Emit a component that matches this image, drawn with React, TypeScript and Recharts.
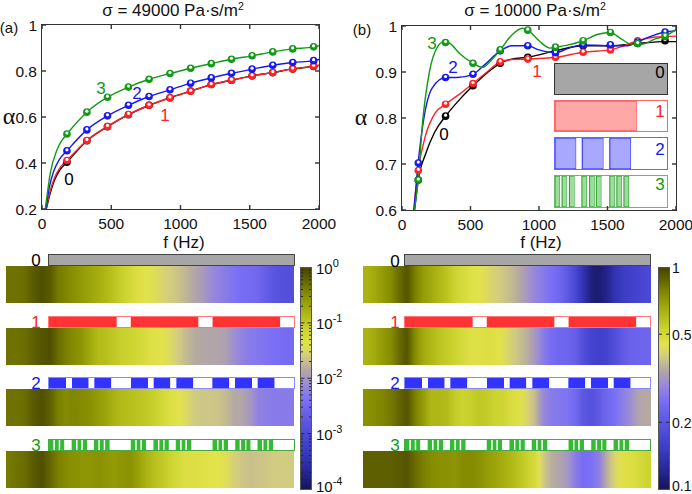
import { BarChart, Bar, Cell, ComposedChart, Line, XAxis, YAxis, ReferenceArea } from 'recharts'

const freqTicks = [0, 500, 1000, 1500, 2000]
const alphaTicksA = [0.2, 0.4, 0.6, 0.8, 1]
const alphaTicksB = [0.6, 0.7, 0.8, 0.9, 1]

// measured dots, panel a
const dotFreqA = [180, 324, 473, 624, 773, 924, 1073, 1222, 1368, 1517, 1666, 1810, 1961]
const dotsA0 = [0.403, 0.497, 0.558, 0.61, 0.651, 0.684, 0.713, 0.741, 0.76, 0.779, 0.793, 0.809, 0.82]
const dotsA1 = [0.411, 0.498, 0.559, 0.611, 0.651, 0.683, 0.712, 0.741, 0.76, 0.779, 0.793, 0.809, 0.821]
const dotsA2 = [0.453, 0.544, 0.605, 0.651, 0.689, 0.718, 0.747, 0.77, 0.79, 0.808, 0.825, 0.837, 0.845]
const dotsA3 = [0.526, 0.621, 0.686, 0.73, 0.764, 0.789, 0.812, 0.832, 0.851, 0.866, 0.883, 0.896, 0.905]

// curves, panel a: low frequency part read separately, then through the dots
const lowA0 = [[31, 0.2], [60, 0.27], [90, 0.325], [130, 0.37]]
const lowA1 = [[30, 0.2], [60, 0.28], [90, 0.335], [130, 0.38]]
const lowA2 = [[28, 0.2], [55, 0.3], [85, 0.365], [125, 0.415]]
const lowA3 = [[24, 0.2], [60, 0.356], [108, 0.457], [140, 0.495]]
const endA = [0.824, 0.825, 0.85, 0.91]

// panel b
const dotFreqB = [119, 318, 518, 717, 918, 1120, 1322, 1521, 1720, 1920]
const dotsB0 = [0.665, 0.804, 0.87, 0.919, 0.932, 0.946, 0.957, 0.957, 0.962, 0.968]
const dotsB1 = [0.686, 0.83, 0.875, 0.922, 0.928, 0.932, 0.943, 0.948, 0.968, 0.977]
const dotsB2 = [0.702, 0.888, 0.895, 0.946, 0.957, 0.942, 0.959, 0.959, 0.965, 0.987]
const dotsB3 = [0.665, 0.964, 0.919, 0.948, 0.991, 0.954, 0.968, 0.986, 0.962, 0.978]

const curveB0 = [[92, 0.6], [118, 0.665], [170, 0.72], [240, 0.77], [318, 0.804], [420, 0.84], [518, 0.87], [620, 0.898], [717, 0.919], [800, 0.928], [918, 0.932], [1120, 0.946], [1322, 0.957], [1521, 0.957], [1720, 0.962], [1920, 0.966], [2000, 0.966]]
const curveB1 = [[85, 0.6], [118, 0.686], [170, 0.76], [240, 0.81], [318, 0.83], [420, 0.852], [518, 0.875], [620, 0.9], [717, 0.922], [800, 0.927], [918, 0.928], [1120, 0.932], [1322, 0.943], [1521, 0.948], [1620, 0.957], [1720, 0.968], [1850, 0.976], [2000, 0.978]]
const curveB2 = [[88, 0.6], [118, 0.702], [160, 0.8], [220, 0.865], [318, 0.888], [400, 0.888], [518, 0.895], [600, 0.915], [717, 0.946], [800, 0.957], [918, 0.957], [1000, 0.948], [1120, 0.942], [1220, 0.952], [1322, 0.959], [1521, 0.957], [1650, 0.957], [1720, 0.965], [1800, 0.976], [1920, 0.987], [2000, 0.99]]
const curveB3 = [[90, 0.6], [118, 0.665], [150, 0.79], [200, 0.9], [260, 0.955], [300, 0.965], [350, 0.962], [420, 0.94], [518, 0.919], [590, 0.91], [650, 0.925], [717, 0.948], [800, 0.98], [880, 0.995], [918, 0.991], [1000, 0.968], [1080, 0.952], [1120, 0.954], [1200, 0.958], [1322, 0.968], [1430, 0.982], [1521, 0.986], [1600, 0.972], [1680, 0.96], [1760, 0.961], [1850, 0.972], [1920, 0.978], [2000, 0.992]]

// heat strips: position on the colorbar, 0 bottom, 1 top, one value per column
const stripA0 = [.92, .92, .93, .96, .98, .96, .91, .89, .87, .85, .83, .81, .79, .76, .73, .70, .67, .65, .64, .62, .60, .585, .56, .535, .51, .475, .45, .43, .41, .39, .385, .37, .33, .30, .28, .27]
const stripA1 = [.92, .92, .93, .95, .97, .98, .93, .90, .88, .86, .82, .78, .77, .75, .73, .72, .70, .68, .66, .65, .63, .60, .57, .545, .535, .53, .53, .52, .48, .45, .43, .42, .41, .40, .39, .385]
const stripA2 = [.92, .92, .93, .96, .98, .95, .90, .88, .89, .88, .87, .85, .83, .80, .78, .77, .76, .75, .73, .70, .67, .65, .63, .60, .59, .59, .585, .57, .54, .53, .50, .45, .44, .43, .43, .43]
const stripA3 = [.91, .92, .93, .96, .98, .94, .90, .88, .87, .86, .86, .87, .86, .85, .86, .87, .84, .80, .77, .75, .72, .69, .67, .67, .66, .65, .65, .64, .61, .59, .58, .585, .59, .60, .60, .60]
const stripB0 = [.80, .82, .85, .88, .93, .97, .90, .85, .82, .79, .76, .72, .69, .66, .65, .63, .61, .59, .57, .54, .50, .46, .43, .40, .37, .32, .24, .14, .05, .03, .07, .14, .18, .20, .22, .24]
const stripB1 = [.80, .82, .85, .88, .93, .97, .88, .82, .79, .76, .74, .72, .69, .66, .66, .67, .66, .64, .61, .58, .55, .50, .44, .39, .37, .36, .34, .27, .22, .20, .22, .27, .32, .35, .36, .36]
const stripB2 = [.87, .88, .89, .91, .94, .97, .90, .85, .79, .79, .78, .74, .72, .73, .75, .74, .72, .71, .68, .66, .62, .57, .47, .43, .42, .41, .38, .31, .28, .32, .37, .40, .44, .48, .53, .54]
const stripB3 = [.95, .95, .95, .95, .96, .97, .93, .90, .88, .87, .87, .86, .88, .88, .87, .85, .83, .81, .79, .76, .73, .69, .60, .55, .53, .50, .44, .39, .40, .44, .55, .62, .66, .67, .69, .72]

const mapPos = [0, .1, .2, .3, .4, .47, .54, .6, .65, .72, .8, .88, .95, 1]
const mapColor = ['#15155c', '#2a2aa0', '#4040cc', '#5a55e0', '#7a6ff5', '#9a8ad8', '#b5a9a2', '#d2cc80', '#e2e24a', '#ccd430', '#aab312', '#858c00', '#5e5f00', '#454500']

// patterns
const patGray = [1]
const patRed = [204, 42, 204, 42, 204, 41]
const patBlue = [51, 18, 50, 17, 51, 59, 51, 17, 50, 18, 51, 57, 51, 17, 51, 17, 51, 58]
const patGreen = [14, 4, 12, 4, 13, 22, 14, 4, 12, 4, 13, 21, 14, 4, 12, 4, 14, 64, 14, 4, 12, 4, 13, 22, 14, 4, 12, 4, 13, 21, 14, 4, 12, 4, 14, 64, 14, 4, 12, 4, 13, 22, 14, 4, 12, 4, 13, 21, 14, 4, 12, 4, 14, 63]
const insetRed = [243, 90]
const insetBlue = [63, 18, 63, 19, 63, 107]
const insetGreen = [15, 6, 14, 8, 15, 22, 15, 8, 15, 5, 15, 25, 15, 6, 15, 6, 15, 113]

const cbarTicksA = [1e-4, 2e-4, 3e-4, 4e-4, 5e-4, 6e-4, 7e-4, 8e-4, 9e-4, 1e-3, 2e-3, 3e-3, 4e-3, 5e-3, 6e-3, 7e-3, 8e-3, 9e-3, 1e-2, 2e-2, 3e-2, 4e-2, 5e-2, 6e-2, 7e-2, 8e-2, 9e-2, 1e-1, 0.2, 0.3, 0.4, 0.5, 0.6, 0.7, 0.8, 0.9, 1]
const cbarLabelsA: Record<string, string> = { '0.0001': '-4', '0.001': '-3', '0.01': '-2', '0.1': '-1', '1': '0' }
const cbarTicksB = [0.1, 0.2, 0.5, 1]

const BLACK = '#000000'
const RED = '#ff2226'
const BLUE = '#1818f0'
const GREEN = '#129a16'
const FRAME = '#333333'
const FONT = '"Liberation Sans", Arial, sans-serif'
const colors = [BLACK, RED, BLUE, GREEN]

function hex(c: string) {
  return [1, 3, 5].map(i => parseInt(c.slice(i, i + 2), 16))
}

function cmap(t: number) {
  let i = 0
  while (i < mapPos.length - 2 && t > mapPos[i + 1]) i++
  const f = Math.min(1, Math.max(0, (t - mapPos[i]) / (mapPos[i + 1] - mapPos[i])))
  const a = hex(mapColor[i])
  const b = hex(mapColor[i + 1])
  return `rgb(${a.map((v, k) => Math.round(v + (b[k] - v) * f)).join(',')})`
}

const pts = (xs: number[], ys: number[]) => xs.map((x, i) => ({ x, y: ys[i] }))
const pairs = (list: number[][]) => list.map(([x, y]) => ({ x, y }))

const Marker = (color: string) => (props: any) => {
  const { cx, cy, index } = props
  if (cx == null || cy == null) return <g key={index} />
  return (
    <g key={index}>
      <circle cx={cx} cy={cy} r={3.8} fill={color} />
      <circle cx={cx} cy={cy - 1} r={1.6} fill="#fff" />
    </g>
  )
}

// small inward tick, a thin filled rect
const Mark = ({ x, y, dx = 0, dy = 0, color = FRAME, w = 1.4 }: any) => (
  <rect
    x={dx ? Math.min(x, x + dx) : x - w / 2}
    y={dy ? Math.min(y, y + dy) : y - w / 2}
    width={dx ? Math.abs(dx) : w}
    height={dy ? Math.abs(dy) : w}
    fill={color}
  />
)

const BottomTick = ({ x, y, payload }: any) => (
  <g>
    <Mark x={x} y={y} dy={-4} />
    <text x={x} y={y + 20} textAnchor="middle" fill="#111" fontSize={15.5} fontFamily={FONT}>{payload.value}</text>
  </g>
)
const TopTick = ({ x, y }: any) => <Mark x={x} y={y} dy={4} />
const LeftTick = ({ x, y, payload }: any) => (
  <g>
    <Mark x={x} y={y} dx={4} />
    <text x={x - 5} y={y + 5.5} textAnchor="end" fill="#111" fontSize={15.5} fontFamily={FONT}>{payload.value}</text>
  </g>
)
const RightTick = ({ x, y }: any) => <Mark x={x} y={y} dx={-4} />

const flat = { axisLine: false, tickLine: false, tickSize: 0, tickMargin: 0, interval: 0 as const }

function Panel({ left, width, plotLeft, plotRight, top, bottom, domain, ticks, curves, dots }: any) {
  return (
    <div style={{ position: 'absolute', left, top: 0, width, height: 250 }}>
      <ComposedChart width={width} height={250} margin={{ top, right: plotRight, bottom, left: plotLeft }}>
        <XAxis xAxisId="b" dataKey="x" type="number" domain={[0, 2000]} allowDataOverflow hide />
        <YAxis yAxisId="l" dataKey="y" type="number" domain={domain} allowDataOverflow hide />
        {curves.map((c: any, i: number) => (
          <Line key={`c${i}`} xAxisId="b" yAxisId="l" data={c} dataKey="y" type="monotone" stroke={colors[i]}
            strokeWidth={1.4} dot={false} activeDot={false} isAnimationActive={false} />
        ))}
        {dots.map((c: any, i: number) => (
          <Line key={`d${i}`} xAxisId="b" yAxisId="l" data={c} dataKey="y" stroke="none"
            dot={Marker(colors[i])} activeDot={false} isAnimationActive={false} />
        ))}
      </ComposedChart>
    </div>
  )
}

// axes of a panel in their own chart, laid over everything else
function PanelAxes({ left, width, plotLeft, plotRight, top, bottom, domain, ticks }: any) {
  const corners = [{ x: 0, y: domain[0] }, { x: 2000, y: domain[1] }]
  return (
    <div style={{ position: 'absolute', left, top: 0, width, height: 250, zIndex: 5 }}>
      <ComposedChart width={width} height={250} data={corners} margin={{ top: 0, right: 0, bottom: 0, left: 0 }}>
        <XAxis xAxisId="b" dataKey="x" type="number" domain={[0, 2000]} ticks={freqTicks} allowDataOverflow
          orientation="bottom" height={bottom} tick={<BottomTick />} {...flat} />
        <XAxis xAxisId="t" dataKey="x" type="number" domain={[0, 2000]} ticks={freqTicks} allowDataOverflow
          orientation="top" height={top} tick={<TopTick />} {...flat} />
        <YAxis yAxisId="l" dataKey="y" type="number" domain={domain} ticks={ticks} allowDataOverflow
          orientation="left" width={plotLeft} tick={<LeftTick />} {...flat} />
        <YAxis yAxisId="r" dataKey="y" type="number" domain={domain} ticks={ticks} allowDataOverflow
          orientation="right" width={plotRight} tick={<RightTick />} {...flat} />
        <Line xAxisId="b" yAxisId="l" dataKey="y" stroke="none" dot={false} activeDot={false} isAnimationActive={false} />
      </ComposedChart>
      <div style={{
        position: 'absolute', left: plotLeft - 1, top: top - 1, width: width - plotLeft - plotRight + 2,
        height: 250 - top - bottom + 2, border: `1.5px solid ${FRAME}`, boxSizing: 'border-box', pointerEvents: 'none',
      }} />
    </div>
  )
}

function Strip({ id, left, top, values }: { id: string; left: number; top: number; values: number[] }) {
  const data = values.map((level, i) => ({ col: i, level, full: 1 }))
  const edge = (a: number, b: number) => cmap((a + b) / 2)
  return (
    <div style={{ position: 'absolute', left, top }}>
      <BarChart width={288} height={37} data={data} margin={{ top: 0, right: 0, bottom: 0, left: 0 }} barCategoryGap={0} barGap={0}>
        <defs>
          {values.map((v, i) => (
            <linearGradient key={i} id={`${id}-${i}`} x1="0" x2="1" y1="0" y2="0">
              <stop offset="0" stopColor={edge(values[Math.max(0, i - 1)], v)} />
              <stop offset="0.5" stopColor={cmap(v)} />
              <stop offset="1" stopColor={edge(v, values[Math.min(values.length - 1, i + 1)])} />
            </linearGradient>
          ))}
        </defs>
        <XAxis dataKey="col" hide />
        <YAxis domain={[0, 1]} hide />
        <Bar dataKey="full" isAnimationActive={false} shapeRendering="crispEdges">
          {data.map((d, i) => <Cell key={i} fill={`url(#${id}-${d.col})`} />)}
        </Bar>
      </BarChart>
    </div>
  )
}

function Pattern({ left, top, width, height, segments, fill, stroke, outline }: any) {
  const total = segments.reduce((a: number, b: number) => a + b, 0)
  const row: any = { name: 'p' }
  segments.forEach((s: number, i: number) => { row[`s${i}`] = s })
  return (
    <div style={{ position: 'absolute', left, top, width, height }}>
      <BarChart width={width} height={height} data={[row]} layout="vertical"
        margin={{ top: 0, right: 0, bottom: 0, left: 0 }} barCategoryGap={0}>
        <XAxis type="number" domain={[0, total]} hide />
        <YAxis type="category" dataKey="name" hide />
        {segments.map((_: number, i: number) => (
          <Bar key={i} dataKey={`s${i}`} stackId="s" isAnimationActive={false}
            fill={i % 2 ? '#ffffff' : fill} stroke={i % 2 || !stroke ? 'none' : stroke} strokeWidth={1} />
        ))}
      </BarChart>
      <div style={{ position: 'absolute', left: -1, top: -1, right: -1, bottom: -1, border: `1px solid ${outline}`, boxSizing: 'border-box' }} />
    </div>
  )
}

const isMajor = (v: number) => cbarLabelsA[String(v)] !== undefined

const DecadeTick = ({ x, y, payload }: any) => {
  const exp = cbarLabelsA[String(payload.value)]
  const lift = payload.value < 0.001 ? 3 : 0
  return (
    <g>
      <Mark x={x} y={y} dx={exp === undefined ? -2 : -3.5} color="#222" w={0.9} />
      {exp !== undefined && (
        <text x={x + 5} y={y + 6 - lift} fill="#111" fontSize={15} fontFamily={FONT}>
          <tspan>10</tspan>
          <tspan dy={-7} fontSize={11}>{exp}</tspan>
        </text>
      )}
    </g>
  )
}
const DecadeMark = ({ x, y, payload }: any) => (
  <Mark x={x} y={y} dx={isMajor(payload.value) ? 3.5 : 2} color="#222" w={0.9} />
)
const PlainTick = ({ x, y, payload }: any) => (
  <g>
    <Mark x={x} y={y} dx={-3} color="#222" w={0.9} />
    <text x={x + 3} y={payload.value === 0.1 ? y + 2 : y + 5.5} fill="#111" fontSize={14} fontFamily={FONT}>{payload.value}</text>
  </g>
)
const PlainMark = ({ x, y }: any) => <Mark x={x} y={y} dx={3} color="#222" w={0.9} />

function Colorbar({ id, left, barLeft, domain, ticks, tick, mark }: any) {
  return (
    <div style={{ position: 'absolute', left, top: 255, width: 692 - left, height: 239 }}>
      <ComposedChart width={692 - left} height={239} data={[{ x: 0 }, { x: 1 }]} margin={{ top: 12.5, right: 0, bottom: 5, left: 0 }}>
        <defs>
          <linearGradient id={id} x1="0" x2="0" y1="1" y2="0">
            {mapPos.map((p, i) => <stop key={i} offset={p} stopColor={mapColor[i]} />)}
          </linearGradient>
        </defs>
        <XAxis dataKey="x" type="number" domain={[0, 1]} hide />
        <ReferenceArea yAxisId="l" x1={0} x2={1} y1={domain[0]} y2={domain[1]} fill={`url(#${id})`} fillOpacity={1} />
        <YAxis yAxisId="l" orientation="left" type="number" scale="log" domain={domain} ticks={ticks} allowDataOverflow
          width={barLeft} tick={mark} {...flat} />
        <YAxis yAxisId="r" orientation="right" type="number" scale="log" domain={domain} ticks={ticks} allowDataOverflow
          width={692 - left - barLeft - 10} tick={tick} {...flat} />
      </ComposedChart>
      <div style={{
        position: 'absolute', left: barLeft - 1, top: 12, width: 12, height: 223,
        border: '1px solid #555', boxSizing: 'border-box', pointerEvents: 'none',
      }} />
    </div>
  )
}

function Note({ x, y, color = '#111', size = 15.5, family = FONT, children }: any) {
  return (
    <div style={{
      position: 'absolute', left: x, top: y, transform: 'translate(-50%,-50%)', color, fontSize: size,
      fontFamily: family, whiteSpace: 'nowrap', lineHeight: 1, zIndex: 6,
    }}>{children}</div>
  )
}

const Title = ({ x, value }: { x: number; value: string }) => (
  <Note x={x} y={10} size={17}>σ = {value} Pa·s/m<sup style={{ fontSize: 10.5, verticalAlign: 6, lineHeight: 0 }}>2</sup></Note>
)

const stripsA = [stripA0, stripA1, stripA2, stripA3]
const stripsB = [stripB0, stripB1, stripB2, stripB3]
const stripTops = [266, 328, 389, 451]
const patternRows = [
  { top: 255, segments: patGray, fill: '#a6a6a6', outline: '#444' },
  { top: 317, segments: patRed, fill: '#ff3333', outline: '#ff7777' },
  { top: 378, segments: patBlue, fill: '#3333ff', outline: '#8888ff' },
  { top: 440, segments: patGreen, fill: '#33bb33', outline: '#44aa44' },
]
const insetRows = [
  { top: 64, height: 30, segments: patGray, fill: '#a6a6a6', stroke: '', outline: '#333' },
  { top: 101, height: 30, segments: insetRed, fill: '#ffa8a8', stroke: '#ff3333', outline: '#ff6666' },
  { top: 138, height: 31, segments: insetBlue, fill: '#a8a8ff', stroke: '#2222ee', outline: '#6666ff' },
  { top: 176, height: 31, segments: insetGreen, fill: '#a0dca0', stroke: '#20a020', outline: '#66bb66' },
]
const layoutA = { left: 0, width: 346, plotLeft: 42, plotRight: 27, top: 25, bottom: 41, domain: [0.2, 1], ticks: alphaTicksA }
const layoutB = { left: 346, width: 346, plotLeft: 56, plotRight: 16, top: 26, bottom: 40, domain: [0.6, 1], ticks: alphaTicksB }

export default function App() {
  const curvesA = [
    [...pairs(lowA0), ...pts(dotFreqA, dotsA0), { x: 2000, y: endA[0] }],
    [...pairs(lowA1), ...pts(dotFreqA, dotsA1), { x: 2000, y: endA[1] }],
    [...pairs(lowA2), ...pts(dotFreqA, dotsA2), { x: 2000, y: endA[2] }],
    [...pairs(lowA3), ...pts(dotFreqA, dotsA3), { x: 2000, y: endA[3] }],
  ]
  const markersA = [dotsA0, dotsA1, dotsA2, dotsA3].map(d => pts(dotFreqA, d))
  const curvesB = [curveB0, curveB1, curveB2, curveB3].map(pairs)
  const markersB = [dotsB0, dotsB1, dotsB2, dotsB3].map(d => pts(dotFreqB, d))

  return (
    <div style={{ position: 'absolute', left: 0, top: 0, width: 692, height: 494, overflow: 'hidden', background: '#fff' }}>
      <Panel {...layoutA} curves={curvesA} dots={markersA} />
      <Panel {...layoutB} curves={curvesB} dots={markersB} />

      {insetRows.map((r, i) => (
        <Pattern key={i} left={555} width={112} {...r} />
      ))}
      {['0', '1', '2', '3'].map((s, i) => (
        <Note key={i} x={660} y={[72, 111, 149, 184][i]} color={colors[i]} size={17}>{s}</Note>
      ))}

      {stripTops.map((top, i) => (
        <Strip key={`a${i}`} id={`a${i}`} left={6} top={top} values={stripsA[i]} />
      ))}
      {stripTops.map((top, i) => (
        <Strip key={`b${i}`} id={`b${i}`} left={363} top={top} values={stripsB[i]} />
      ))}
      {patternRows.map((r, i) => (
        <Pattern key={`pa${i}`} left={49} width={245} height={10} top={r.top} segments={r.segments} fill={r.fill} outline={r.outline} />
      ))}
      {patternRows.map((r, i) => (
        <Pattern key={`pb${i}`} left={405} width={245} height={10} top={r.top} segments={r.segments} fill={r.fill} outline={r.outline} />
      ))}

      <Colorbar id="cbarA" left={290} barLeft={11} domain={[1e-4, 1]} ticks={cbarTicksA} tick={<DecadeTick />} mark={<DecadeMark />} />
      <Colorbar id="cbarB" left={648} barLeft={11} domain={[0.1, 1]} ticks={cbarTicksB} tick={<PlainTick />} mark={<PlainMark />} />

      <PanelAxes {...layoutA} />
      <PanelAxes {...layoutB} />

      <Title x={173} value="49000" />
      <Title x={535} value="10000" />
      <Note x={9} y={27} size={15}>(a)</Note>
      <Note x={362} y={29} size={15}>(b)</Note>
      <Note x={184} y={242} size={17}>f (Hz)</Note>
      <Note x={541} y={242} size={17}>f (Hz)</Note>
      <Note x={9} y={116} size={24} family='"Liberation Serif", serif'>α</Note>
      <Note x={361} y={117} size={24} family='"Liberation Serif", serif'>α</Note>

      {['3', '2', '1', '0'].map((s, i) => (
        <Note key={s} x={[101, 137, 165, 69][i]} y={[88, 93, 115, 179][i]} color={colors[3 - i]} size={17}>{s}</Note>
      ))}
      {['3', '2', '1', '0'].map((s, i) => (
        <Note key={s} x={[432, 453, 537, 444][i]} y={[43, 67, 71, 134][i]} color={colors[3 - i]} size={17}>{s}</Note>
      ))}
      {['0', '1', '2', '3'].map((s, i) => (
        <Note key={s} x={36} y={[260, 322, 383, 445][i]} color={colors[i]} size={17}>{s}</Note>
      ))}
      {['0', '1', '2', '3'].map((s, i) => (
        <Note key={s} x={395} y={[261, 322, 383, 445][i]} color={colors[i]} size={17}>{s}</Note>
      ))}
    </div>
  )
}
